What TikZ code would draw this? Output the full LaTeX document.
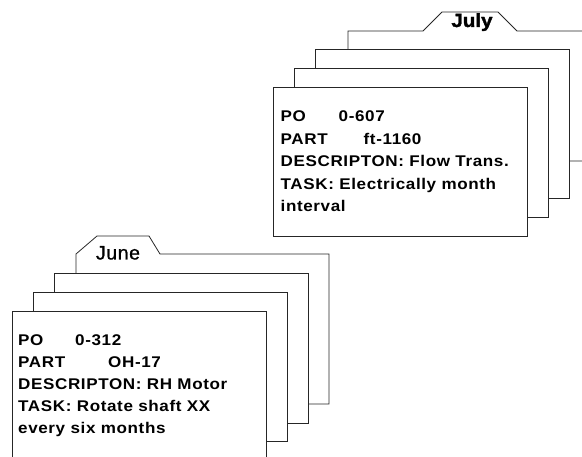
\documentclass[tikz,border=0pt]{standalone}
\usepackage{fontspec}
\newfontfamily\cardfont{Liberation Sans}[LetterSpace=4,FakeStretch=1.1]
\newfontfamily\julyfont{Liberation Sans}[FakeStretch=1.08,RawFeature={embolden=2}]
\newfontface\junefont{Liberation Sans}[LetterSpace=3,FakeBold=0.8]
\begin{document}
\begin{tikzpicture}[x=1pt,y=-1pt,
  card/.style={draw=black!85,line width=0.8pt,fill=white,line join=miter},
  txt/.style={anchor=base west,inner sep=0pt,font=\cardfont\bfseries\fontsize{15.5}{18}\selectfont},
  tablabel/.style={anchor=base,inner sep=0pt}]
\useasboundingbox (0,0) rectangle (582,457);
\clip (0,0) rectangle (582,457);
% ---------- July stack ----------
\draw[card] (348,161) -- (348,31) -- (423,31) -- (442,12) -- (498,12) -- (517,31) -- (600,31) -- (600,161) -- cycle;
\draw[card] (315,49) rectangle (569,198);
\draw[card] (294,68) rectangle (548,217);
\draw[card] (273,87) rectangle (527,236);
\node[tablabel,font=\julyfont\bfseries\fontsize{19}{20}\selectfont] (julylab) at (472,27) {July};
\node[txt] (j1) at (280.5,122) {\makebox[58pt][l]{PO}0-607};
\node[txt] (j2) at (280.5,144.4) {\makebox[83pt][l]{PART}ft-1160};
\node[txt] (j3) at (280.5,166.8) {DESCRIPTON: Flow Trans.};
\node[txt] (j4) at (280.5,189.2) {TASK: Electrically month};
\node[txt] (j5) at (280.5,211.6) {interval};
% ---------- June stack ----------
\draw[card] (76,404) -- (76,254) -- (97,236) -- (149,236) -- (160,254) -- (329,254) -- (329,404) -- cycle;
\draw[card] (54,273) rectangle (308,423);
\draw[card] (33,292) rectangle (287,441);
\draw[card] (12,311) rectangle (266,462);
\node[tablabel,font=\junefont\fontsize{19.5}{20}\selectfont] (junelab) at (118,259.5) {June};
\node[txt] (u1) at (18,346) {\makebox[57pt][l]{PO}0-312};
\node[txt] (u2) at (18,368) {\makebox[90pt][l]{PART}OH-17};
\node[txt] (u3) at (18,390) {DESCRIPTON: RH Motor};
\node[txt] (u4) at (18,412) {TASK: Rotate shaft XX};
\node[txt] (u5) at (18,434) {every six months};
\end{tikzpicture}
\end{document}
